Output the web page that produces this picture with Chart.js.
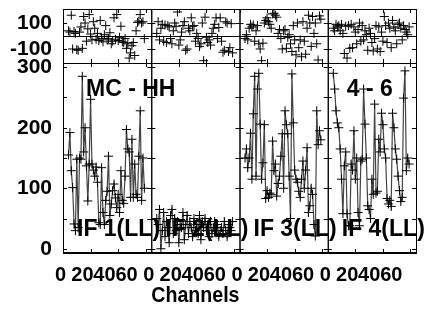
<!DOCTYPE html>
<html>
<head>
<meta charset="utf-8">
<script src="https://cdn.jsdelivr.net/npm/chart.js@4/dist/chart.umd.min.js"></script>
<style>
html, body { margin: 0; padding: 0; background: #fff; }
</style>
</head>
<body>
<canvas id="spec" width="427" height="311"></canvas>
<script>
// channel of the first value in every series
var firstChannel = 4;
var ifLabels = ["IF 1(LL)", "IF 2(LL)", "IF 3(LL)", "IF 4(LL)"];
var xTicks = [0, 20, 40, 60];
var phaseTicks = [-100, 100];
var ampTicks = [0, 100, 200, 300];
var ampMinor = [0, 50, 100, 150, 200, 250, 300];

var phase1 = [40, 30, 160, -100, 35, 20, -105, -110, 30, 70, -95, 150, 100, -40, 55, 165, 15, -30, 110, 60,
  -25, 20, -35, 120, -20, -45, 10, 80, -30, -20, 25, -60, -40, 140, -25, 165, -35, -10, 75, -45,
  -50, -20, -95, -60, -170, -130, -75, -50, -150, 40, 105, 115, 165, 100, 110, -20];
var phase2 = [20, 110, -30, 60, 90, -40, 85, -50, 80, 70, -20, -60, 40, 100, 75, 185, -70, -30, 30, 80,
  110, -110, -100, 60, 40, 140, 75, 80, -40, 20, -20, -80, -60, 100, -190, 145, -10, -50, -30, -70,
  20, 60, 90, 140, -20, 65, 140, -40, -125, -110, 110, 100, -120, -90, 95, -130];
var phase3 = [-20, 10, -30, 60, 90, 70, 85, -40, 40, 80, -60, -100, -190, -55, 100, 120, 140, 110, 90, 60,
  170, 175, 160, 145, 20, 50, -20, -100, 40, 50, -95, -10, 10, -60, -120, 80, -30, -145, 100, -90,
  -30, -160, 110, -40, -140, 60, 160, 100, -80, 150, 20, 100, -60, -185, 155, 130];
var phase4 = [60, 40, 90, 70, 80, 40, 90, 20, -135, 75, -170, 80, -95, 90, -90, 70, 30, -60, 50, 100,
  -40, 80, -30, 40, 10, -110, 60, 20, -50, -115, -20, 80, -100, 70, -120, 30, -40, 150, 80, -50,
  100, 60, -90, 120, 70, 40, -60, 90, 100, 60, -30, 80, 50, 30, 10, 70];

var amp1 = [155, 192, 129, 101, 41, 30, 148, 35, 150, 148, 285, 160, 200, 137, 79, 140, 247, 140, 130, 120,
  135, 110, 43, 40, 134, 60, 40, 80, 95, 153, 55, 74, 96, 107, 84, 68, 90, 60, 129, 80,
  75, 120, 197, 165, 160, 85, 181, 85, 140, 90, 85, 153, 228, 80, 150, 100];
var amp2 = [50, 40, 65, 0, 30, 60, 20, 45, 35, 10, 55, 65, 25, 50, 30, 45, 10, 40, 35, 60,
  15, 40, 55, 25, 45, 35, 20, 50, 30, 40, 25, 55, 15, 45, 35, 50, 30, 40, 20, 45,
  25, 35, 45, 30, 40, 20, 30, 35, 25, 45, 30, 20, 40, 35, 30, 45];
var amp3 = [150, 165, 134, 150, 191, 115, 223, 285, 120, 264, 290, 206, 115, 142, 205, 83, 96, 85, 92, 90,
  178, 129, 140, 87, 108, 120, 153, 190, 100, 228, 205, 190, 120, 50, 289, 208, 130, 115, 110, 95,
  85, 115, 145, 100, 130, 167, 60, 71, 100, 90, 40, 21, 228, 172, 195, 180];
var amp4 = [290, 264, 228, 208, 200, 165, 115, 58, 137, 160, 58, 38, 38, 140, 130, 195, 115, 150, 60, 38,
  145, 148, 264, 206, 150, 71, 65, 50, 115, 90, 239, 92, 95, 181, 160, 224, 205, 165, 150, 83,
  74, 80, 70, 224, 200, 165, 148, 120, 96, 78, 85, 249, 294, 129, 150, 140];

var phases = [phase1, phase2, phase3, phase4];
var amps = [amp1, amp2, amp3, amp4];

function toPoints(arr) {
  return arr.map(function (v, k) { return { x: firstChannel + k, y: v }; });
}

var fam = "'Liberation Sans', Arial, sans-serif";
var datasets = [];
var scales = {};

function fixX(s) { s.height = 58; s.paddingLeft = 0; s.paddingRight = 0; }
function fixY(s) { s.width = 63; s.paddingTop = 0; s.paddingBottom = 0; }

for (var i = 0; i < 4; i++) {
  var xid = 'x' + (i + 1);
  datasets.push({
    data: toPoints(phases[i]), xAxisID: xid, yAxisID: 'yp',
    showLine: false, pointStyle: 'cross', pointRadius: 4.5,
    pointBorderColor: '#000', pointBorderWidth: 1
  });
  datasets.push({
    data: toPoints(amps[i]), xAxisID: xid, yAxisID: 'ya',
    showLine: true, borderColor: '#444', borderWidth: 1.2, tension: 0,
    pointStyle: 'cross', pointRadius: 4.5,
    pointBorderColor: '#000', pointBorderWidth: 1
  });
  scales[xid] = {
    type: 'linear', position: 'bottom', stack: 'h', weight: i + 1,
    min: 0, max: 64,
    afterBuildTicks: function (s) { s.ticks = xTicks.map(function (v) { return { value: v }; }); },
    afterFit: fixX,
    grid: { display: false, drawTicks: false }, border: { display: false },
    ticks: {
      autoSkip: false, maxRotation: 0, align: 'end', labelOffset: 3, padding: 10,
      color: '#000', font: { family: fam, weight: 'bold', size: 20 },
      // the original squeezes its channel numbers together, so pull the later ones left
      callback: function (v, k) { return v + ' '.repeat(Math.max(k - 1, 0)); }
    },
    title: {
      display: i === 1, text: 'Channels', color: '#000', padding: { top: 0, bottom: 2 },
      font: { family: fam, weight: 'bold', size: 22 }
    }
  };
}

scales.yp = {
  type: 'linear', position: 'left', stack: 'v', stackWeight: 54, weight: 2,
  min: -208, max: 208,
  afterBuildTicks: function (s) { s.ticks = phaseTicks.map(function (v) { return { value: v }; }); },
  afterFit: fixY,
  grid: { display: false, drawTicks: false }, border: { display: false },
  ticks: { autoSkip: false, padding: 11, color: '#000', font: { family: fam, weight: 'bold', size: 21 } }
};
scales.ya = {
  type: 'linear', position: 'left', stack: 'v', stackWeight: 190, weight: 1,
  min: -7, max: 307,
  afterBuildTicks: function (s) { s.ticks = ampTicks.map(function (v) { return { value: v }; }); },
  afterFit: fixY,
  grid: { display: false, drawTicks: false }, border: { display: false },
  ticks: { autoSkip: false, padding: 11, color: '#000', font: { family: fam, weight: 'bold', size: 21 } }
};

var framePlugin = {
  id: 'frame',
  afterDatasetsDraw: function (chart) {
    var ctx = chart.ctx;
    var yp = chart.scales.yp, ya = chart.scales.ya;
    function seg(x1, y1, x2, y2) { ctx.beginPath(); ctx.moveTo(x1, y1); ctx.lineTo(x2, y2); ctx.stroke(); }
    ctx.save();
    ctx.strokeStyle = '#000';
    ctx.lineWidth = 1;
    var t = 4;
    for (var i = 0; i < 4; i++) {
      var xs = chart.scales['x' + (i + 1)];
      [yp, ya].forEach(function (ys) {
        ctx.strokeRect(xs.left + 0.5, ys.top + 0.5, xs.width, ys.height);
        xTicks.forEach(function (v) {
          var px = Math.round(xs.getPixelForValue(v)) + 0.5;
          seg(px, ys.top, px, ys.top + t);
          seg(px, ys.bottom, px, ys.bottom - t);
        });
      });
      phaseTicks.forEach(function (v) {
        var py = Math.round(yp.getPixelForValue(v)) + 0.5;
        seg(xs.left, py, xs.left + t, py);
        seg(xs.right, py, xs.right - t, py);
      });
      ampMinor.forEach(function (v) {
        var py = Math.round(ya.getPixelForValue(v)) + 0.5;
        seg(xs.left, py, xs.left + t, py);
        seg(xs.right, py, xs.right - t, py);
      });
    }
    var z = Math.round(yp.getPixelForValue(0)) + 0.5;
    seg(chart.chartArea.left, z, chart.chartArea.right, z);
    ctx.lineWidth = 2;
    seg(chart.chartArea.left, ya.bottom, chart.chartArea.right, ya.bottom);

    ctx.fillStyle = '#000';
    ctx.textBaseline = 'alphabetic';
    ctx.textAlign = 'left';
    ctx.font = "bold 23px " + fam;
    var x1 = chart.scales.x1, x4 = chart.scales.x4;
    ctx.fillText('MC - HH', x1.left + 23, 96);
    ctx.fillText('4 - 6', x4.left + 19, 96);
    for (var j = 0; j < 4; j++) {
      ctx.fillText(ifLabels[j], chart.scales['x' + (j + 1)].left + 14, 236);
    }
    ctx.restore();
  }
};

new Chart(document.getElementById('spec'), {
  type: 'line',
  data: { datasets: datasets },
  options: {
    responsive: false,
    devicePixelRatio: 1,
    animation: false,
    layout: { autoPadding: false, padding: { top: 9, right: 11, left: 0, bottom: 0 } },
    plugins: { legend: { display: false }, tooltip: { enabled: false } },
    scales: scales
  },
  plugins: [framePlugin]
});
</script>
</body>
</html>
